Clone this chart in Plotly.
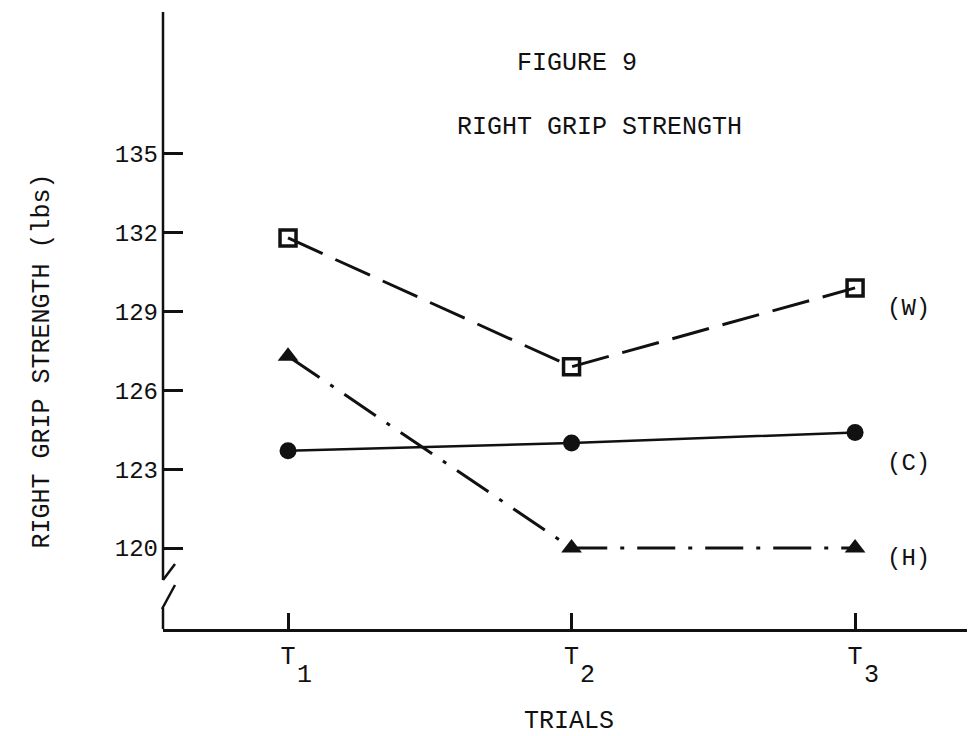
import plotly.graph_objects as go

trials = [1, 2, 3]
trial_labels = ["T", "T", "T"]
trial_subscripts = ["1", "2", "3"]
w_values = [131.8, 126.9, 129.9]
c_values = [123.7, 124.0, 124.4]
h_values = [127.3, 120.0, 120.0]
y_ticks = [120, 123, 126, 129, 132, 135]
series_names = ["(W)", "(C)", "(H)"]
label_y = [129.1, 123.2, 119.6]

FONT = "Liberation Mono"
INK = "#111111"

# page pixel -> plot-area fractions (plot area spans x 163..975, y 12..629 on the page)
def px(xp):
    return (xp - 163) / 812

def py(yp):
    return (629 - yp) / 617

fig = go.Figure()

fig.add_trace(go.Scatter(
    x=trials, y=w_values, mode="lines+markers", name="(W)",
    line=dict(color=INK, width=3, dash="38px,14px"),
    marker=dict(symbol="square-open", size=16, color=INK, line=dict(width=3.5, color=INK)),
))
fig.add_trace(go.Scatter(
    x=trials, y=c_values, mode="lines+markers", name="(C)",
    line=dict(color=INK, width=2.5),
    marker=dict(symbol="circle", size=17, color=INK),
))
fig.add_trace(go.Scatter(
    x=trials, y=h_values, mode="lines+markers", name="(H)",
    line=dict(color=INK, width=3, dash="38px,13px,4px,13px"),
    marker=dict(symbol="triangle-up", size=18, color=INK),
))

# series labels at right end
for name, yv in zip(series_names, label_y):
    fig.add_annotation(x=3.19, y=yv, xref="x", yref="y", text=name,
                       showarrow=False, xanchor="center", yanchor="middle",
                       font=dict(family=FONT, size=24, color=INK))

# subscripts of the trial tick labels
for t, s in zip(trials, trial_subscripts):
    fig.add_annotation(x=t, y=py(675), xref="x", yref="paper", text=s, xshift=16,
                       showarrow=False, xanchor="center", yanchor="middle", borderpad=0,
                       font=dict(family=FONT, size=25, color=INK))

# titles
fig.add_annotation(x=2.02, y=138.45, xref="x", yref="y",
                   text="FIGURE 9", showarrow=False, yanchor="middle",
                   font=dict(family=FONT, size=25, color=INK))
fig.add_annotation(x=2.10, y=136.0, xref="x", yref="y",
                   text="RIGHT GRIP STRENGTH", showarrow=False, yanchor="middle",
                   font=dict(family=FONT, size=25, color=INK))
fig.add_annotation(x=px(25), y=py(361), xref="paper", yref="paper",
                   text="RIGHT GRIP STRENGTH (lbs)", showarrow=False, textangle=-90,
                   font=dict(family=FONT, size=25, color=INK))

# broken y axis line
line_style = dict(color=INK, width=2.5)
segments = [
    ((163, 12), (163, 580)),
    ((163, 580), (175, 564)),
    ((162, 609), (175, 585)),
    ((163, 608), (163, 629)),
]
for (x0, y0), (x1, y1) in segments:
    fig.add_shape(type="line", xref="paper", yref="paper",
                  x0=px(x0), y0=py(y0), x1=px(x1), y1=py(y1), line=line_style)

fig.update_layout(
    width=967, height=728,
    margin=dict(l=155, r=0, t=4, b=107),
    paper_bgcolor="white", plot_bgcolor="white",
    showlegend=False,
    font=dict(family=FONT, color=INK),
    xaxis=dict(
        range=[0.559, 3.423], tickvals=trials, ticktext=trial_labels,
        showline=True, linecolor=INK, linewidth=2.5,
        ticks="inside", ticklen=16, tickwidth=3, tickcolor=INK,
        showgrid=False, zeroline=False,
        tickfont=dict(family=FONT, size=25, color=INK),
        ticklabelstandoff=2,
        title=dict(text="TRIALS", font=dict(family=FONT, size=25, color=INK), standoff=42),
    ),
    yaxis=dict(
        range=[116.92, 140.40], tickvals=y_ticks,
        showline=False, ticks="inside", ticklen=20, tickwidth=2.5, tickcolor=INK,
        showgrid=False, zeroline=False,
        tickfont=dict(family=FONT, size=24, color=INK),
        ticklabelstandoff=4,
    ),
)

fig.write_html("out.html")
